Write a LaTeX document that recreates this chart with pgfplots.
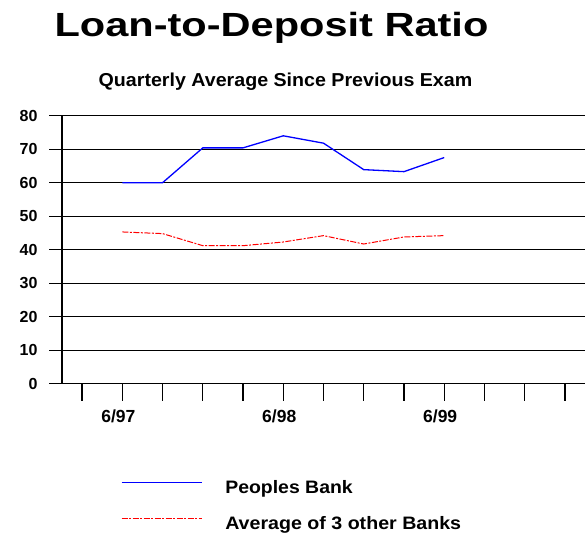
\documentclass[border=0pt]{standalone}
\usepackage{fontspec}
\setmainfont{Liberation Sans}
\usepackage{graphicx}
\usepackage{pgfplots}
\pgfplotsset{compat=1.18}
\begin{document}
\begin{tikzpicture}
\useasboundingbox (-62pt,-153.3pt) rectangle (523pt,383.7pt);
\begin{axis}[
  scale only axis, width=523pt, height=268pt,
  xmin=-0.5, xmax=12.5, ymin=0, ymax=80,
  axis x line*=bottom, axis y line*=left,
  axis line style={line width=1.3pt, -},
  tick align=outside,
  major tick length=13pt,
  tick style={black, line width=1.3pt},
  xtick style={/pgfplots/major tick length=17pt},
  ytick={0,10,...,80},
  xtick={0,...,12},
  xticklabels={,6/97,,,,6/98,,,,6/99,,,},
  ymajorgrids,
  grid style={black, line width=1.3pt},
  /pgf/number format/assume math mode=true,
  yticklabel style={font=\fontsize{16}{16}\selectfont\bfseries, xshift=-8pt},
  xticklabel style={font=\fontsize{17.5}{17.5}\selectfont\bfseries, xshift=-4pt, yshift=-10pt},
  legend style={draw=none, fill=none, inner sep=0pt, outer sep=0pt,
    at={(axis description cs:0.1128,-0.361)}, anchor=north west,
    row sep=21.5pt, column sep=23pt,
    font=\fontsize{18}{18}\selectfont\bfseries, nodes={inner sep=0pt}},
  legend cell align=left,
  legend image code/.code={\draw[#1] (0pt,5pt) -- (80pt,5pt);},
]
\addplot[draw=blue, color=blue, line width=1.3pt] coordinates {(1,60)(2,60)(3,70.4)(4,70.4)(5,74)(6,71.8)(7,63.9)(8,63.3)(9,67.5)};
\addlegendentry{\scalebox{1.08}[1]{Peoples Bank}}
\addplot[draw=red, color=red, line width=1pt, dash pattern=on 6pt off 1.5pt on 2pt off 1.5pt] coordinates {(1,45.3)(2,44.8)(3,41.2)(4,41.2)(5,42.3)(6,44.2)(7,41.7)(8,43.8)(9,44.2)};
\addlegendentry{\scalebox{1.09}[1]{Average of 3 other Banks}}
\end{axis}
\node[anchor=base] at (209.5pt,346.7pt) {\fontsize{33.5}{33.5}\selectfont\bfseries\scalebox{1.24}[1]{Loan-to-Deposit Ratio}};
\node[anchor=base] at (223.5pt,296.7pt) {\fontsize{18.7}{18.7}\selectfont\bfseries\scalebox{1.05}[1]{Quarterly Average Since Previous Exam}};
\end{tikzpicture}
\end{document}
